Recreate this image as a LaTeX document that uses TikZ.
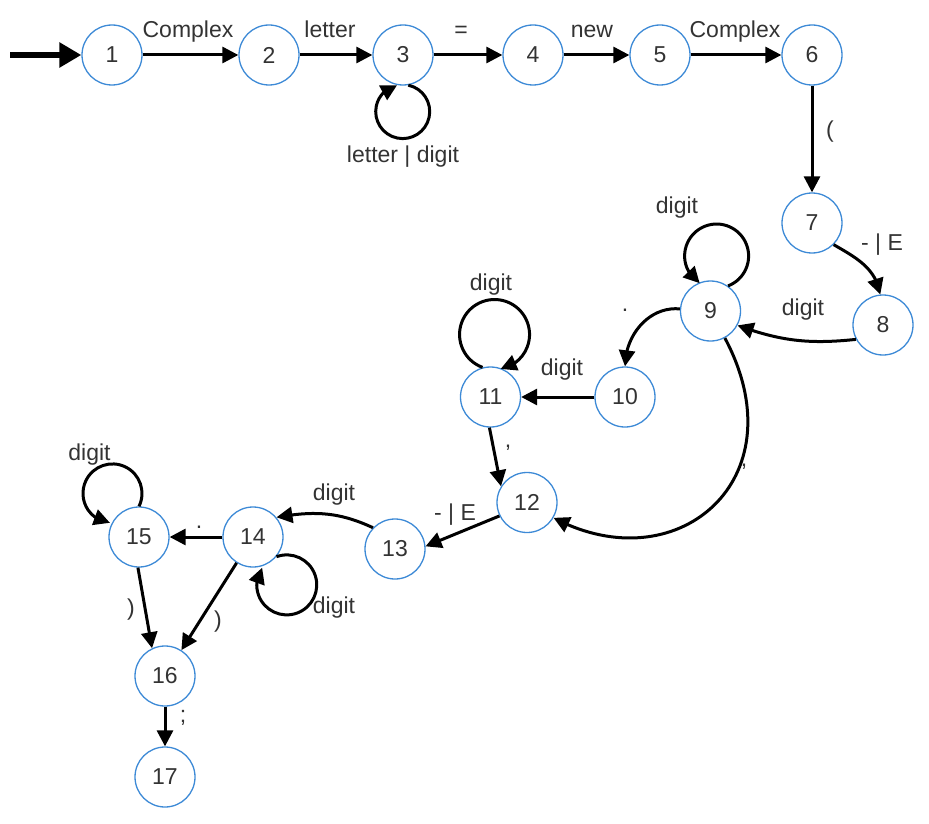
\documentclass[tikz,border=0pt]{standalone}
\usepackage{fontspec}
\setmainfont{Liberation Sans}
\usetikzlibrary{arrows.meta,bending}
\definecolor{nodeblue}{HTML}{3D8AD6}
\definecolor{txt}{HTML}{333333}
\begin{document}
\begin{tikzpicture}[x=1pt,y=1pt,
  state/.style={circle, draw=nodeblue, line width=1.3pt, minimum size=60pt, inner sep=0pt, text=txt, font=\fontsize{23}{27}\selectfont},
  edge/.style={line width=3pt, -{Triangle[length=16pt,width=16pt]}},
  initedge/.style={line width=6pt, -{Triangle[length=22pt,width=24pt]}},
  lbl/.style={anchor=base, text=txt, font=\fontsize{23}{27}\selectfont, inner sep=0pt}]
\useasboundingbox (0,0) rectangle (929,-824);
% states
\node[state] (n1) at (112,-55) {1};
\node[state] (n2) at (269,-55) {2};
\node[state] (n3) at (403,-55) {3};
\node[state] (n4) at (533,-55) {4};
\node[state] (n5) at (660,-55) {5};
\node[state] (n6) at (812,-55) {6};
\node[state] (n7) at (812,-223) {7};
\node[state] (n8) at (883,-325) {8};
\node[state] (n9) at (710.5,-311) {9};
\node[state] (n10) at (625,-397) {10};
\node[state] (n11) at (490.5,-397) {11};
\node[state] (n12) at (527,-502.5) {12};
\node[state] (n13) at (395,-549) {13};
\node[state] (n14) at (253,-537) {14};
\node[state] (n15) at (139,-537) {15};
\node[state] (n16) at (165,-676) {16};
\node[state] (n17) at (165,-777) {17};
% initial arrow
\coordinate (s) at (10,-55);
\draw[initedge] (s) -- (n1);
% transitions
\draw[edge] (n1) -- (n2);
\draw[edge] (n2) -- (n3);
\draw[edge] (n3) -- (n4);
\draw[edge] (n4) -- (n5);
\draw[edge] (n5) -- (n6);
\draw[edge] (n3.-80) arc[start angle=78, end angle=-258, radius=27];
\draw[edge] (n6) -- (n7);
\draw[edge] (n7.-45) to[out=-30, in=100] (n8.95);
\draw[edge] (n8.208) to[out=186, in=-20] (n9.-28);
\draw[edge] (n9.55) arc[start angle=-69, end angle=238, radius=32];
\draw[edge] (n9.176) to[out=175, in=90] (n10.90);
\draw[edge] (n9.-62) to[out=-62, in=-28, out distance=160, in distance=140] (n12.-30);
\draw[edge] (n10) -- (n11);
\draw[edge] (n11.105) arc[start angle=250, end angle=-80, radius=35];
\draw[edge] (n11.-92) -- (n12.148);
\draw[edge] (n12.206) -- (n13.5);
\draw[edge] (n13.136) to[out=155, in=10] (n14.40);
\draw[edge] (n14.-40) arc[start angle=110, end angle=-215, radius=30];
\draw[edge] (n14) -- (n15);
\draw[edge] (n14) -- (n16);
\draw[edge] (n15.90) arc[start angle=-26, end angle=265, radius=29.5];
\draw[edge] (n15.-92) -- (n16.115);
\draw[edge] (n16) -- (n17);
% labels
\node[lbl] (l12) at (188,-38) {Complex};
\node[lbl] (l23) at (330,-38) {letter};
\node[lbl] (l34) at (461,-38) {=};
\node[lbl] (l45) at (592,-38) {new};
\node[lbl] (l56) at (735,-38) {Complex};
\node[lbl] (l33) at (403,-163) {letter | digit};
\node[lbl] (l67) at (830,-138) {(};
\node[lbl] (l78) at (882,-250) {- | E};
\node[lbl] (l89) at (803,-315) {digit};
\node[lbl] (l99) at (677,-213) {digit};
\node[lbl] (l910) at (625,-311) {.};
\node[lbl] (l912) at (744,-466) {,};
\node[lbl] (l1011) at (562,-375) {digit};
\node[lbl] (l1111) at (491,-290) {digit};
\node[lbl] (l1112) at (508,-447) {,};
\node[lbl] (l1213) at (455,-520) {- | E};
\node[lbl] (l1314) at (334,-500) {digit};
\node[lbl] (l1414) at (334,-613) {digit};
\node[lbl] (l1415) at (199,-528) {.};
\node[lbl] (l1416) at (218,-627) {)};
\node[lbl] (l1515) at (89.5,-460) {digit};
\node[lbl] (l1516) at (131,-615) {)};
\node[lbl] (l1617) at (183,-722) {;};
\end{tikzpicture}
\end{document}
